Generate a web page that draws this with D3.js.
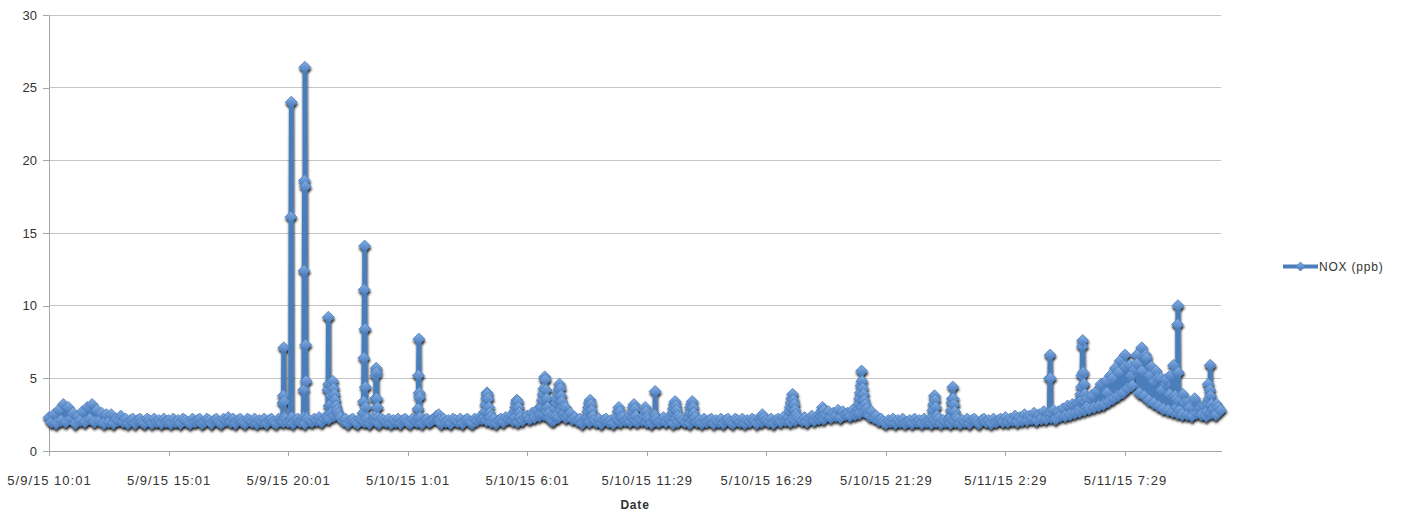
<!DOCTYPE html>
<html><head><meta charset="utf-8">
<script src="https://cdn.jsdelivr.net/npm/d3@7"></script>
<style>
body{margin:0;background:#fff}
svg{display:block}
text{font-family:"Liberation Sans",Arial,sans-serif;fill:#333}
</style>
</head><body>
<svg id="c" width="1401" height="514"></svg>
<script>
// ---------------- data ----------------
const seriesName = "NOX (ppb)";
const xTitle = "Date";
const tickLabels = ["5/9/15 10:01","5/9/15 15:01","5/9/15 20:01","5/10/15 1:01","5/10/15 6:01",
                    "5/10/15 11:29","5/10/15 16:29","5/10/15 21:29","5/11/15 2:29","5/11/15 7:29"];
const readingsPerTick = 300;
const totalReadings = 2942;
const yTicks = [0,5,10,15,20,25,30];

// routine readings, every 6th reading
const baseStep = 6;
const baseNox = [
 2.3,2.0,2.5,1.9,2.8,2.1,3.2,2.0,3.0,2.2,2.6,1.9,2.4,2.1,2.7,2.0,3.0,2.2,3.2,2.0,2.8,2.1,2.6,1.9,2.5,
 2.0,2.5,1.9,2.2,2.1,2.4,2.0,2.2,1.9,2.1,2.2,1.9,2.1,2.2,2.0,1.9,2.2,2.1,1.9,2.2,2.0,2.1,1.9,2.2,2.0,
 2.1,1.9,2.2,2.0,2.1,1.9,2.2,2.1,2.0,1.9,2.2,2.0,2.1,2.2,1.9,2.0,2.2,2.1,1.9,2.1,2.2,2.0,1.9,2.2,2.1,
 2.3,2.0,2.2,1.9,2.1,2.2,2.0,1.9,2.2,2.1,2.0,2.2,1.9,2.1,2.0,2.2,1.9,2.1,2.2,2.0,1.9,2.2,2.1,2.0,2.2,
 2.0,2.2,1.9,2.1,2.2,2.0,2.1,1.9,2.2,2.1,2.0,2.2,2.1,2.3,2.0,2.2,2.4,2.2,2.6,2.4,2.7,2.5,2.3,2.1,2.2,
 1.9,2.1,2.2,2.0,1.9,2.2,2.1,2.0,2.2,1.9,2.1,2.2,2.0,1.9,2.2,2.1,2.0,2.2,1.9,2.1,2.0,2.2,1.9,2.1,2.2,
 2.0,1.9,2.2,2.1,2.0,2.2,1.9,2.1,2.2,2.0,2.1,2.2,2.4,2.1,1.9,2.2,2.0,2.1,1.9,2.2,2.1,2.0,2.2,1.9,2.1,
 2.2,2.0,1.9,2.2,2.1,2.3,2.2,2.4,2.1,2.3,2.0,2.2,1.9,2.1,2.2,2.0,2.3,2.2,2.4,2.1,2.3,2.0,2.2,2.1,2.3,
 2.4,2.2,2.6,2.3,2.8,2.4,3.0,2.5,2.7,2.3,2.2,2.1,2.4,2.3,2.8,2.5,3.0,2.4,2.6,2.2,2.3,2.1,2.2,1.9,2.1,
 2.2,2.0,2.3,2.1,2.0,2.2,1.9,2.1,2.2,2.0,2.1,1.9,2.2,2.1,2.0,2.3,2.1,2.2,2.0,2.3,2.1,2.0,2.2,2.1,2.3,
 2.0,2.2,1.9,2.1,2.2,2.0,2.1,2.3,2.0,2.2,2.1,1.9,2.2,2.0,2.3,2.1,2.0,2.2,1.9,2.1,2.2,2.0,2.1,1.9,2.2,
 2.0,2.1,2.2,1.9,2.1,2.0,2.2,1.9,2.1,2.2,2.0,1.9,2.2,2.1,2.0,2.2,1.9,2.1,2.0,2.2,2.1,1.9,2.2,2.0,2.3,
 2.1,2.0,2.2,1.9,2.1,2.2,2.0,2.3,2.1,2.2,2.0,2.2,2.1,2.3,2.2,2.1,2.3,2.0,2.2,2.4,2.1,2.3,2.2,2.4,2.2,
 2.4,2.7,2.3,2.6,2.4,2.8,2.3,2.7,2.5,2.6,2.4,2.8,2.5,2.7,2.6,3.0,2.7,2.9,2.5,2.7,2.3,2.4,2.1,2.2,2.0,
 1.9,2.1,2.0,2.2,1.9,2.1,2.0,2.2,1.9,2.0,2.1,1.9,2.2,2.0,2.1,1.9,2.2,2.0,2.1,1.9,2.1,2.0,2.2,1.9,2.1,
 2.0,2.2,1.9,2.1,2.0,2.2,1.9,2.1,2.0,2.2,1.9,2.1,2.2,2.0,1.9,2.1,2.2,2.0,2.1,1.9,2.2,2.0,2.1,2.2,2.0,
 2.3,2.0,2.2,2.1,2.4,2.0,2.3,2.1,2.5,2.1,2.4,2.2,2.6,2.1,2.5,2.2,2.7,2.2,2.6,2.3,2.8,2.2,2.7,2.4,2.9,
 2.4,3.1,2.5,3.2,2.6,3.3,2.7,3.5,2.8,3.6,2.9,3.8,3.0,4.1,3.1,4.4,3.2,4.8,3.4,5.2,3.6,5.7,3.8,6.2,4.0,
 6.6,4.3,5.9,4.5,5.6,6.6,4.0,7.1,3.8,6.4,3.5,5.8,3.3,5.5,3.1,5.0,2.9,4.6,2.8,5.2,2.7,3.8,2.6,3.5,2.5,
 3.3,2.5,3.0,2.4,3.4,2.6,2.9,2.5,3.1,2.4,3.2,2.6,2.9,2.5,3.0,2.8
];

// excursion readings: [reading number, NOX ppb]
const peakReadings = [
 [586,2.2],[587,3.3],[588,3.8],[589,7.1],[590,3.4],[591,2.3],
 [606,2.1],[607,16.1],[608,24.0],[609,2.3],
 [638,2.3],[639,4.2],[640,12.4],[641,18.6],[642,26.4],[643,18.2],[644,7.3],[645,4.8],[646,2.3],
 [699,2.3],[700,4.2],[701,9.2],[702,4.6],[703,3.1],
 [706,3.2],[708,3.8],[710,4.5],[712,4.8],[714,4.3],[716,3.9],[718,3.5],[720,3.1],[723,2.8],[726,2.6],[730,2.4],
 [788,2.6],[789,3.4],[790,6.4],[791,11.1],[792,14.1],[793,8.4],[794,4.4],[795,3.0],[796,2.3],
 [818,2.4],[819,3.6],[820,5.2],[821,5.7],[822,5.4],[823,3.6],[824,3.0],[825,2.3],
 [925,2.2],[926,2.9],[927,5.2],[928,7.7],[929,4.0],[930,3.7],[931,2.3],
 [976,2.2],[978,2.5],[980,2.1],
 [1092,2.3],[1094,2.7],[1096,3.2],[1098,3.6],[1099,4.0],[1100,3.9],[1102,3.6],[1104,3.0],[1106,2.6],[1108,2.3],
 [1167,2.3],[1169,2.7],[1171,3.0],[1173,3.3],[1174,3.5],[1176,3.4],[1178,3.0],[1180,2.6],[1182,2.3],
 [1232,2.5],[1235,3.0],[1238,3.5],[1240,3.9],[1242,4.3],[1244,5.1],[1245,4.9],[1247,4.2],[1249,3.6],[1251,3.0],[1254,2.6],[1258,2.3],[1262,2.1],
 [1266,2.4],[1269,2.9],[1272,3.3],[1275,3.6],[1277,3.9],[1279,4.2],[1281,4.6],[1283,4.3],[1285,3.8],[1287,3.4],[1290,3.0],[1293,2.6],[1297,2.3],
 [1350,2.3],[1352,2.7],[1354,3.0],[1356,3.3],[1358,3.5],[1360,3.2],[1362,2.8],[1365,2.4],
 [1425,2.3],[1428,2.7],[1430,3.0],[1432,2.7],[1435,2.3],
 [1462,2.3],[1464,2.7],[1466,3.0],[1468,3.2],[1470,2.9],[1473,2.4],
 [1491,2.4],[1494,2.8],[1496,3.0],[1498,2.7],[1501,2.3],
 [1519,2.2],[1520,2.5],[1521,4.1],[1522,2.4],[1523,2.1],
 [1563,2.3],[1565,2.6],[1567,2.9],[1569,3.2],[1571,3.4],[1573,3.1],[1575,2.8],[1578,2.4],
 [1606,2.3],[1608,2.6],[1610,3.0],[1612,3.2],[1614,3.4],[1616,3.0],[1618,2.6],[1621,2.3],
 [1787,2.2],[1790,2.5],[1793,2.2],
 [1855,2.3],[1858,2.7],[1860,3.0],[1862,3.3],[1864,3.6],[1866,3.9],[1868,3.5],[1870,3.2],[1872,2.8],[1875,2.5],
 [1935,2.4],[1938,2.7],[1941,3.0],[1944,2.8],[1947,2.5],
 [2028,2.6],[2030,2.9],[2032,3.2],[2034,3.6],[2036,4.0],[2038,4.5],[2039,5.5],[2040,4.8],[2042,4.3],[2044,3.9],[2046,3.5],[2049,3.2],[2052,2.9],[2056,2.6],[2060,2.4],
 [2216,2.3],[2218,2.8],[2220,3.2],[2222,3.8],[2223,3.5],[2225,3.0],[2228,2.4],
 [2262,2.3],[2264,2.8],[2266,3.3],[2267,3.6],[2268,4.4],[2269,3.6],[2271,3.2],[2273,2.7],[2276,2.3],
 [2510,2.5],[2511,5.0],[2512,6.6],[2513,5.0],[2514,2.6],
 [2585,2.9],[2587,3.4],[2589,3.9],[2591,4.4],[2592,5.2],[2593,7.2],[2594,7.6],[2595,5.4],[2597,4.6],[2599,3.9],[2601,3.4],[2604,3.0],
 [2640,4.6],[2655,4.0],[2668,5.0],[2683,5.4],[2700,5.8],[2715,5.2],[2730,6.0],[2742,5.5],[2752,6.6],[2762,5.2],
 [2772,4.8],[2782,5.0],[2792,4.2],[2802,4.9],[2812,3.9],[2822,5.9],[2845,3.9],[2860,3.4],[2875,3.6],[2890,3.0],[2930,3.2],
 [2829,3.0],[2830,3.6],[2831,5.4],[2832,8.7],[2833,10.0],[2834,5.4],[2835,3.4],[2837,2.8],
 [2905,2.7],[2907,3.3],[2909,4.6],[2911,3.6],[2913,4.2],[2914,5.9],[2915,3.8],[2917,3.2],[2920,2.8]
];

// ---------------- chart ----------------
const readings = baseNox.map((v,i)=>[i*baseStep, v]).concat(peakReadings);
readings.sort((a,b)=>a[0]-b[0]);

const svg = d3.select("#c");
const plot = {l:49, r:1221, t:15, b:451};
const x = d3.scaleLinear().domain([0,totalReadings-1]).range([plot.l, plot.r]);
const y = d3.scaleLinear().domain([0,30]).range([plot.b, plot.t]);

const defs = svg.append("defs");
const grad = defs.append("linearGradient").attr("id","mk").attr("x1",0).attr("y1",0).attr("x2",0).attr("y2",1);
grad.append("stop").attr("offset","0%").attr("stop-color","#86afe4");
grad.append("stop").attr("offset","100%").attr("stop-color","#4678b8");
const f = defs.append("filter").attr("id","sh").attr("x","-5%").attr("y","-5%").attr("width","110%").attr("height","115%");
f.append("feDropShadow").attr("dx",0.5).attr("dy",2.4).attr("stdDeviation",0.9)
 .attr("flood-color","#000").attr("flood-opacity",0.9);

// gridlines
svg.append("g").selectAll("line").data(yTicks.filter(d=>d>0)).join("line")
  .attr("x1",plot.l).attr("x2",plot.r).attr("y1",d=>y(d)).attr("y2",d=>y(d))
  .attr("stroke","#c4c4c4").attr("stroke-width",1).attr("shape-rendering","crispEdges");

// y axis
const ya = svg.append("g").attr("transform",`translate(${plot.l},0)`)
  .call(d3.axisLeft(y).tickValues(yTicks).tickSize(6).tickSizeOuter(0).tickPadding(6));
ya.select(".domain").attr("stroke","#a6a6a6").attr("shape-rendering","crispEdges");
ya.selectAll(".tick line").attr("stroke","#a6a6a6").attr("shape-rendering","crispEdges");
ya.selectAll("text").attr("font-size",13).style("fill","#333");

// x axis
const xa = svg.append("g").attr("transform",`translate(0,${plot.b})`)
  .call(d3.axisBottom(x).tickValues(tickLabels.map((_,i)=>i*readingsPerTick))
        .tickFormat((d,i)=>tickLabels[i]).tickSize(5).tickSizeOuter(0).tickPadding(20));
xa.select(".domain").attr("stroke","#a6a6a6").attr("shape-rendering","crispEdges");
xa.selectAll(".tick line").attr("stroke","#a6a6a6").attr("shape-rendering","crispEdges");
xa.selectAll("text").attr("font-size",13).attr("letter-spacing","1px").style("fill","#333");

svg.append("text").attr("x",(plot.l+plot.r)/2).attr("y",509).attr("text-anchor","middle")
  .attr("font-size",12).attr("font-weight","bold").attr("letter-spacing","0.8px").text(xTitle);

// series
const diamond = r => `M0,${-r}L${r},0L0,${r}L${-r},0Z`;
const series = svg.append("g").attr("filter","url(#sh)");
series.append("path").datum(readings)
  .attr("d", d3.line().x(d=>x(d[0])).y(d=>y(d[1])))
  .attr("fill","none").attr("stroke","#4a7ebb").attr("stroke-width",4.6)
  .attr("stroke-linejoin","round").attr("stroke-linecap","round");
series.append("g").selectAll("path").data(readings).join("path")
  .attr("transform",d=>`translate(${x(d[0])},${y(d[1])})`)
  .attr("d",diamond(6)).attr("fill","url(#mk)").attr("stroke","#4a7ebb").attr("stroke-width",0.8);

// legend
const lg = svg.append("g").attr("transform","translate(1283,266.5)");
lg.append("line").attr("x1",0).attr("x2",35).attr("y1",0).attr("y2",0)
  .attr("stroke","#4a7ebb").attr("stroke-width",4);
lg.append("path").attr("transform","translate(17.5,0)").attr("d",diamond(4.5))
  .attr("fill","url(#mk)").attr("stroke","#4a7ebb").attr("stroke-width",0.8);
lg.append("text").attr("x",36).attr("y",4.5).attr("font-size",12).attr("letter-spacing","0.8px").text(seriesName);
</script>
</body></html>
